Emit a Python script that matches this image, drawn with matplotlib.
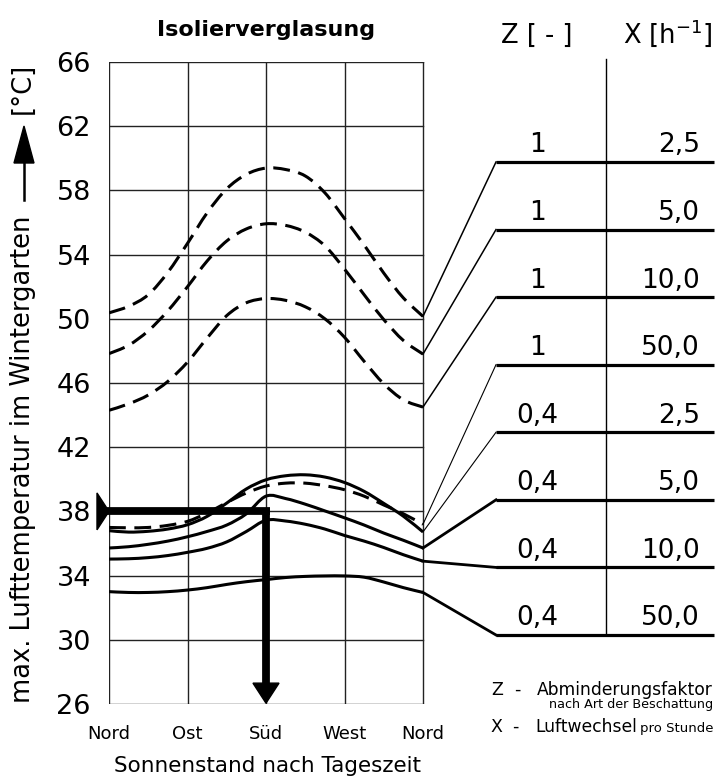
import numpy as np
import matplotlib
matplotlib.use("Agg")
import matplotlib.pyplot as plt
from matplotlib.path import Path
from matplotlib.patches import PathPatch, Polygon
from matplotlib.lines import Line2D

plt.rcParams['font.family'] = ['DejaVu Sans']
plt.rcParams['mathtext.fontset'] = 'dejavusans'

# ---------------- data ----------------
direction_labels = ['Nord', 'Ost', 'Süd', 'West', 'Nord']
direction_pos = [0, 1, 2, 3, 4]
temp_ticks = [26, 30, 34, 38, 42, 46, 50, 54, 58, 62, 66]

# sun position along the day (0 = Nord, 1 = Ost, 2 = Süd, 3 = West, 4 = Nord)
sun_pos = [0, 0.25, 0.5, 0.75, 1.0, 1.25, 1.5, 1.75, 2.0,
           2.25, 2.5, 2.75, 3.0, 3.25, 3.5, 3.75, 4.0]

# Z = 1 (dashed)
t_z1_x2_5 = [50.37, 50.78, 51.5, 52.9, 54.7, 56.6, 58.1, 59.0, 59.39,
             59.3, 58.9, 57.85, 56.25, 54.6, 52.85, 51.3, 50.15]
t_z1_x5 = [47.83, 48.35, 49.25, 50.5, 52.0, 53.6, 54.85, 55.6, 55.92,
           55.82, 55.4, 54.55, 53.1, 51.5, 49.95, 48.65, 47.8]
t_z1_x10 = [44.3, 44.7, 45.25, 46.1, 47.3, 48.8, 50.2, 51.0, 51.26,
            51.15, 50.75, 50.0, 48.85, 47.35, 45.95, 44.95, 44.5]
t_z1_x50 = [37.0, 36.98, 37.0, 37.13, 37.38, 37.9, 38.55, 39.15, 39.58,
            39.76, 39.76, 39.6, 39.35, 38.95, 38.4, 37.85, 37.2]
# Z = 0.4 (solid)
t_z04_x2_5 = [36.8, 36.71, 36.76, 36.9, 37.17, 37.69, 38.52, 39.4, 39.97,
              40.22, 40.28, 40.14, 39.8, 39.25, 38.5, 37.7, 36.72]
t_z04_x5 = [35.72, 35.8, 35.95, 36.15, 36.42, 36.75, 37.15, 37.85, 38.95,
            38.8, 38.45, 38.03, 37.6, 37.15, 36.65, 36.2, 35.72]
t_z04_x10 = [35.03, 35.05, 35.12, 35.25, 35.45, 35.7, 36.1, 36.75, 37.45,
             37.4, 37.2, 36.9, 36.5, 36.15, 35.75, 35.3, 34.9]
t_z04_x50 = [33.0, 32.95, 32.95, 33.0, 33.1, 33.25, 33.45, 33.62, 33.75,
             33.88, 33.95, 33.98, 33.98, 33.9, 33.6, 33.25, 32.95]

z_labels = ['1', '1', '1', '1', '0,4', '0,4', '0,4', '0,4']
x_labels = ['2,5', '5,0', '10,0', '50,0', '2,5', '5,0', '10,0', '50,0']

read_temp = 38      # example reading
read_pos = 2        # Süd

series = [t_z1_x2_5, t_z1_x5, t_z1_x10, t_z1_x50,
          t_z04_x2_5, t_z04_x5, t_z04_x10, t_z04_x50]
dashed = [True, True, True, True, False, False, False, False]

# ---------------- layout ----------------
W, H = 717, 776
def fx(px): return px / W
def fy(py): return 1 - py / H

fig = plt.figure(figsize=(W / 100, H / 100), dpi=100)
XMAX = (714 - 109) / 78.5
ax = fig.add_axes([fx(109), fy(704), (714 - 109) / W, (704 - 62) / H])
ax.set_xlim(0, XMAX)
ax.set_ylim(26, 66)
for s in ax.spines.values():
    s.set_visible(False)

ax.set_xticks(direction_pos)
ax.set_xticklabels(direction_labels, fontsize=13)
ax.set_yticks(temp_ticks)
ax.set_yticklabels([str(t) for t in temp_ticks], fontsize=19.5)
ax.tick_params(axis='x', length=0, pad=15)
ax.tick_params(axis='y', length=0, pad=13)

GRID_C = '#222222'
for t in temp_ticks:
    ax.plot([0, 4], [t, t], color=GRID_C, lw=1.0, zorder=1)
for p in direction_pos:
    ax.plot([p, p], [26, 66], color=GRID_C, lw=1.0, zorder=1)

def smooth_path(xs, ys):
    pts = np.column_stack([xs, ys]).astype(float)
    n = len(pts)
    verts = [pts[0]]
    codes = [Path.MOVETO]
    for i in range(n - 1):
        p0 = pts[i - 1] if i > 0 else pts[i]
        p1 = pts[i]
        p2 = pts[i + 1]
        p3 = pts[i + 2] if i + 2 < n else pts[i + 1]
        verts += [p1 + (p2 - p0) / 6.0, p2 - (p3 - p1) / 6.0, p2]
        codes += [Path.CURVE4] * 3
    return Path(verts, codes)

for vals, dsh in zip(series, dashed):
    patch = PathPatch(smooth_path(sun_pos, vals), facecolor='none',
                      edgecolor='black', lw=2.2, zorder=3,
                      linestyle=(0, (5.5, 2.8)) if dsh else '-',
                      capstyle='butt', joinstyle='round')
    ax.add_patch(patch)

# ---------------- right-hand table ----------------
XJ = (496 - 109) / 78.5
XDIV = (606 - 109) / 78.5
XZ = (537 - 109) / 78.5
XX = (700 - 109) / 78.5
ROW_TOP, ROW_STEP = 59.77, 4.21
diag_lw = [1.1, 1.1, 1.1, 0.8, 0.8, 2.0, 2.0, 2.0]
row_y = []
for i, vals in enumerate(series):
    ry = ROW_TOP - i * ROW_STEP
    row_y.append(ry)
    ax.plot([4, XJ], [vals[-1], ry], color='black', lw=diag_lw[i],
            clip_on=False, zorder=3)
    ax.plot([XJ, XMAX], [ry, ry], color='black', lw=2.3,
            solid_capstyle='butt', clip_on=False, zorder=3)
    ax.text(XZ, ry + 0.6, z_labels[i], ha='center', va='baseline',
            fontsize=19)
    ax.text(XX, ry + 0.6, x_labels[i], ha='right', va='baseline',
            fontsize=19)
ax.plot([XDIV, XDIV], [row_y[-1], 66.17], color='black', lw=1.0,
        clip_on=False, zorder=2)

# ---------------- reading guide (thick arrow) ----------------
ax.plot([-0.1, read_pos + 0.049], [read_temp, read_temp], color='black',
        lw=5.6, solid_capstyle='butt', clip_on=False, zorder=5)
ax.plot([read_pos, read_pos], [read_temp + 0.24, 27.2], color='black',
        lw=5.6, solid_capstyle='butt', clip_on=False, zorder=5)
ax.add_patch(Polygon([[-0.153, read_temp - 1.15], [-0.153, read_temp + 1.15],
                      [0.0, read_temp]], closed=True, color='black',
                     clip_on=False, zorder=5))
ax.add_patch(Polygon([[read_pos - 0.166, 27.3], [read_pos + 0.166, 27.3],
                      [read_pos, 26.05]], closed=True, color='black',
                     clip_on=False, zorder=5))

# ---------------- texts ----------------
fig.text(fx(266), fy(36), 'Isolierverglasung', ha='center', va='baseline',
         fontsize=16, fontweight='bold')
fig.text(fx(537), fy(43), 'Z [ - ]', ha='center', va='baseline', fontsize=18.5)
fig.text(fx(713), fy(43), r'X [h$^{-1}$]', ha='right', va='baseline',
         fontsize=18.5)

fig.text(fx(23), fy(703), 'max. Lufttemperatur im Wintergarten', rotation=90,
         ha='center', va='bottom', fontsize=18.5)
fig.text(fx(23), fy(88), '[°C]', rotation=90, ha='center', va='center',
         fontsize=18.5)
fig.add_artist(Line2D([fx(24), fx(24)], [fy(200), fy(160)], color='black',
                      lw=1.8, transform=fig.transFigure))
fig.add_artist(Polygon([[fx(14), fy(163)], [fx(34), fy(163)], [fx(24), fy(126)]],
                       closed=True, color='black', transform=fig.transFigure))

fig.text(fx(268), fy(772), 'Sonnenstand nach Tageszeit', ha='center',
         va='baseline', fontsize=15.5)

fig.text(fx(497), fy(695), 'Z', ha='center', va='baseline', fontsize=12.5)
fig.text(fx(517), fy(695), '-', ha='center', va='baseline', fontsize=12.5)
fig.text(fx(537), fy(695), 'Abminderungsfaktor', ha='left', va='baseline',
         fontsize=12.3)
fig.text(fx(713), fy(708), 'nach Art der Beschattung', ha='right',
         va='baseline', fontsize=9.2)
fig.text(fx(496), fy(732), 'X', ha='center', va='baseline', fontsize=12.5)
fig.text(fx(515), fy(732), '-', ha='center', va='baseline', fontsize=12.5)
fig.text(fx(535), fy(732), 'Luftwechsel', ha='left', va='baseline',
         fontsize=12.3)
fig.text(fx(713), fy(732), 'pro Stunde', ha='right', va='baseline',
         fontsize=9.5)

fig.savefig('out.png', dpi=100)
